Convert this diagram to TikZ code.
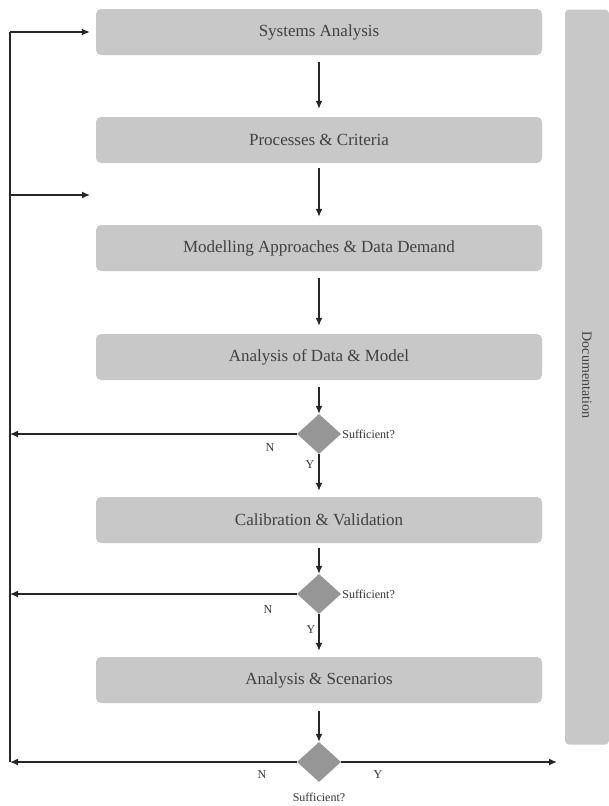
\documentclass[tikz,border=0pt]{standalone}
\usepackage{fontspec}
\setmainfont{Liberation Serif}
\usetikzlibrary{shapes.geometric,arrows.meta}
\begin{document}
\begin{tikzpicture}[x=1pt,y=-1pt,
  stepbox/.style={fill=boxgray, rounded corners=5pt, minimum width=446pt, minimum height=46pt, inner sep=0pt, font=\fontsize{17}{19}\selectfont, text=black!75},
  dec/.style={diamond, fill=decgray, minimum width=44pt, minimum height=40pt, inner sep=0pt, aspect=1.1},
  arr/.style={-{Latex[length=8pt,width=7pt]}, line width=1.4pt, draw=black!85},
  ln/.style={line width=1.4pt, draw=black!85},
  lbl/.style={font=\fontsize{12}{14}\selectfont, text=black!80, inner sep=1pt}]
\definecolor{boxgray}{RGB}{200,200,200}
\definecolor{decgray}{RGB}{150,150,150}
\useasboundingbox (0,0) rectangle (609,806);
\node[stepbox] (b1) at (319,32) {Systems Analysis};
\node[stepbox] (b2) at (319,140) {Processes \& Criteria};
\node[stepbox] (b3) at (319,248) {Modelling Approaches \& Data Demand};
\node[stepbox] (b4) at (319,357) {Analysis of Data \& Model};
\node[dec] (d1) at (319,434) {};
\node[stepbox] (b5) at (319,520) {Calibration \& Validation};
\node[dec] (d2) at (319,594) {};
\node[stepbox] (b6) at (319,680) {Analysis \& Scenarios};
\node[dec] (d3) at (319,762) {};
\node[fill=boxgray, rounded corners=4pt, minimum width=44pt, minimum height=735pt, inner sep=0pt] (doc) at (587,377) {};
\node[rotate=-90, font=\fontsize{14}{16}\selectfont, text=black!75] (doct) at (587,375) {Documentation};
% left rail coordinates
\coordinate (ltop) at (10,32);
\coordinate (lmid) at (10,195);
\coordinate (lmide) at (90,195);
\coordinate (l1) at (10,434);
\coordinate (l2) at (10,594);
\coordinate (l3) at (10,762);
\coordinate (r3) at (557,762);
% vertical arrows
\draw[arr] ([yshift=-7pt]b1.south) -- ([yshift=8pt]b2.north);
\draw[arr] ([yshift=-5pt]b2.south) -- ([yshift=8pt]b3.north);
\draw[arr] ([yshift=-7pt]b3.south) -- ([yshift=8pt]b4.north);
\draw[arr] ([yshift=-7pt]b4.south) -- (d1.north);
\draw[arr] (d1.south) -- ([yshift=6pt]b5.north);
\draw[arr] ([yshift=-5pt]b5.south) -- (d2.north);
\draw[arr] (d2.south) -- ([yshift=6pt]b6.north);
\draw[arr] ([yshift=-8pt]b6.south) -- (d3.north);
% feedback lines
\draw[ln] (l3) -- (ltop);
\draw[arr] (ltop) -- ([xshift=-6pt]b1.west);
\draw[arr] (lmid) -- (lmide);
\draw[arr] (d1.west) -- (l1);
\draw[arr] (d2.west) -- (l2);
\draw[arr] (d3.west) -- (l3);
\draw[arr] (d3.east) -- (r3);
% labels
\node[lbl, anchor=west] at (d1.east) {Sufficient?};
\node[lbl] at (270,448) {N};
\node[lbl] at (310,465) {Y};
\node[lbl, anchor=west] at (d2.east) {Sufficient?};
\node[lbl] at (268,610) {N};
\node[lbl] at (311,630) {Y};
\node[lbl] at (262,775) {N};
\node[lbl] at (378,775) {Y};
\node[lbl, anchor=north] at ([yshift=-10pt]d3.south) {Sufficient?};
\end{tikzpicture}
\end{document}
